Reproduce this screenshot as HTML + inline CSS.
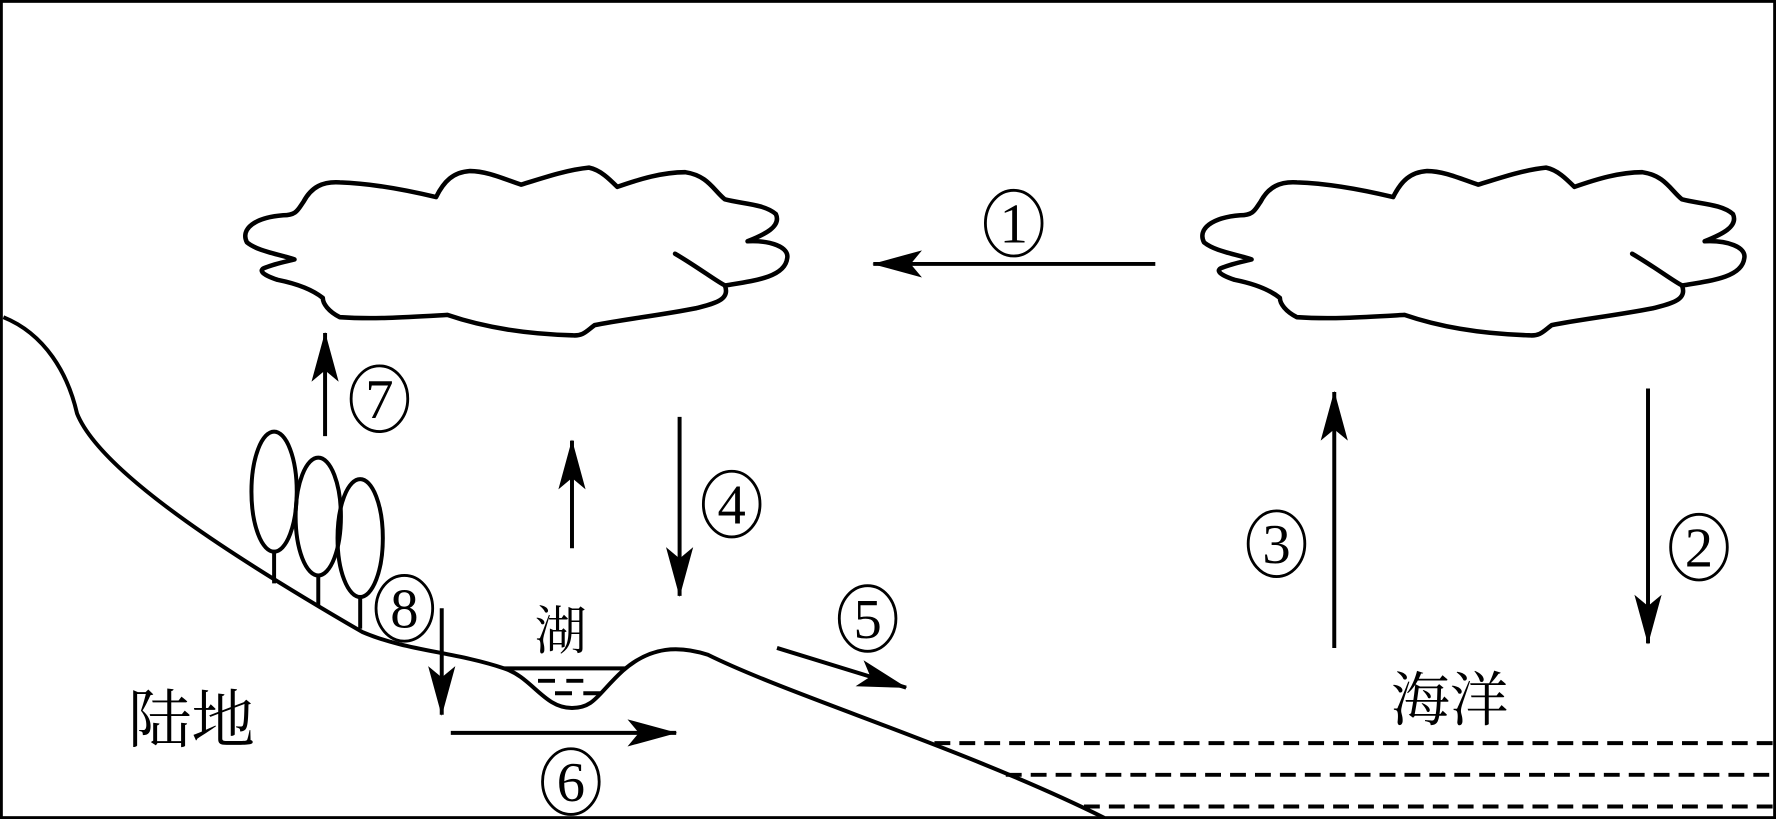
<!DOCTYPE html>
<html><head><meta charset="utf-8"><style>html,body{margin:0;padding:0;background:#fff}svg{display:block}</style></head>
<body>
<svg width="1776" height="819" viewBox="0 0 1568 723" preserveAspectRatio="none" xmlns="http://www.w3.org/2000/svg">
<defs>
<marker id="ahb" viewBox="0 0 44 26" refX="43" refY="13" markerWidth="44" markerHeight="26" markerUnits="userSpaceOnUse" orient="auto"><path d="M0,1 L44,13 L0,25 L10,13 Z" fill="#000"/></marker>
<g id="cloud" fill="none" stroke="#000" stroke-width="4" stroke-linejoin="round" stroke-linecap="round">
<path d="M260,229 C245,224 228,222 218,214 C212,202 225,192 250,190 C262,190 263,185 268,178 C275,165 285,160 300,161 C330,162 360,168 385,174 C392,160 400,152 415,151 C430,151 445,158 460,163 C480,157 500,150 520,148 C530,150 538,158 545,165 C565,158 585,152 605,152 C625,155 630,168 640,176 C655,180 675,180 685,189 C690,200 675,207 660,213 C680,212 697,218 695,228 C693,245 665,248 640,252 C645,265 630,268 615,272 C585,278 550,282 525,287 C518,292 515,297 505,296 C470,295 430,290 395,278 C360,280 330,282 300,280 C290,275 285,268 285,263 C275,255 260,250 245,247 C230,242 228,238 235,236 C242,233 252,231 260,229 Z"/>
<path d="M596,224 C615,235 632,248 640,252"/>
</g>
</defs>
<rect x="1" y="1" width="1566" height="721" fill="#fff" stroke="#000" stroke-width="3"/>
<use href="#cloud"/>
<use href="#cloud" transform="translate(845,0)"/>
<g stroke="#000" stroke-width="3.5" fill="none">
<path d="M3,280 C40,295 60,330 68,365 C90,420 220,500 320,558 C360,575 400,575 445,590 C470,598 480,625 505,625 C525,625 528,612 550,592 C575,570 600,570 625,578 C700,615 850,660 975,722"/>
<line x1="445" y1="590" x2="552" y2="590"/>
<ellipse cx="242" cy="434" rx="20" ry="53"/>
<ellipse cx="281" cy="456" rx="20" ry="52"/>
<ellipse cx="318" cy="475" rx="20" ry="52"/>
<line x1="242" y1="487" x2="242" y2="515"/>
<line x1="281" y1="508" x2="281" y2="535"/>
<line x1="318" y1="527" x2="318" y2="555"/>
</g>
<g stroke="#000" stroke-width="3.5">
<line x1="475" y1="601" x2="490" y2="601"/><line x1="500" y1="601" x2="515" y2="601"/>
<line x1="490" y1="612" x2="505" y2="612"/><line x1="515" y1="612" x2="530" y2="612"/>
</g>
<g stroke="#000" stroke-width="3.5" stroke-dasharray="14,8">
<line x1="825" y1="656" x2="1568" y2="656"/>
<line x1="888" y1="684" x2="1568" y2="684"/>
<line x1="957" y1="712" x2="1568" y2="712"/>
</g>
<g stroke="#000" stroke-width="3.5" marker-end="url(#ahb)">
<line x1="1020" y1="233" x2="771" y2="233"/>
<line x1="1178" y1="572" x2="1178" y2="346"/>
<line x1="1455" y1="343" x2="1455" y2="568"/>
<line x1="600" y1="368" x2="600" y2="526"/>
<line x1="505" y1="484" x2="505" y2="389"/>
<line x1="287" y1="385" x2="287" y2="294"/>
<line x1="390" y1="537" x2="390" y2="631"/>
<line x1="398" y1="647" x2="597" y2="647"/>
<line x1="686" y1="572" x2="800" y2="607"/>
</g>
<g fill="none" stroke="#000" stroke-width="2.5">
<ellipse cx="895" cy="197" rx="25" ry="29"/>
<ellipse cx="1500" cy="483" rx="25" ry="29"/>
<ellipse cx="1127" cy="480" rx="25" ry="29"/>
<ellipse cx="646" cy="445" rx="25" ry="29"/>
<ellipse cx="766" cy="546" rx="25" ry="29"/>
<ellipse cx="504" cy="690" rx="25" ry="29"/>
<ellipse cx="335" cy="352" rx="25" ry="29"/>
<ellipse cx="357" cy="537" rx="25" ry="29"/>
</g>
<g font-family="Liberation Serif, serif" font-size="50" text-anchor="middle" fill="#000">
<text x="895" y="214">1</text>
<text x="1500" y="500">2</text>
<text x="1127" y="497">3</text>
<text x="646" y="462">4</text>
<text x="766" y="563">5</text>
<text x="504" y="707">6</text>
<text x="335" y="369">7</text>
<text x="357" y="554">8</text>
</g>
<g font-family="Liberation Serif, 'Noto Serif CJK SC', serif" fill="#000">
<text x="113" y="655" font-size="56">陆地</text>
<text x="472" y="573" font-size="46">湖</text>
<text x="1228" y="636" font-size="52">海洋</text>
</g>
</svg>
</body></html>
